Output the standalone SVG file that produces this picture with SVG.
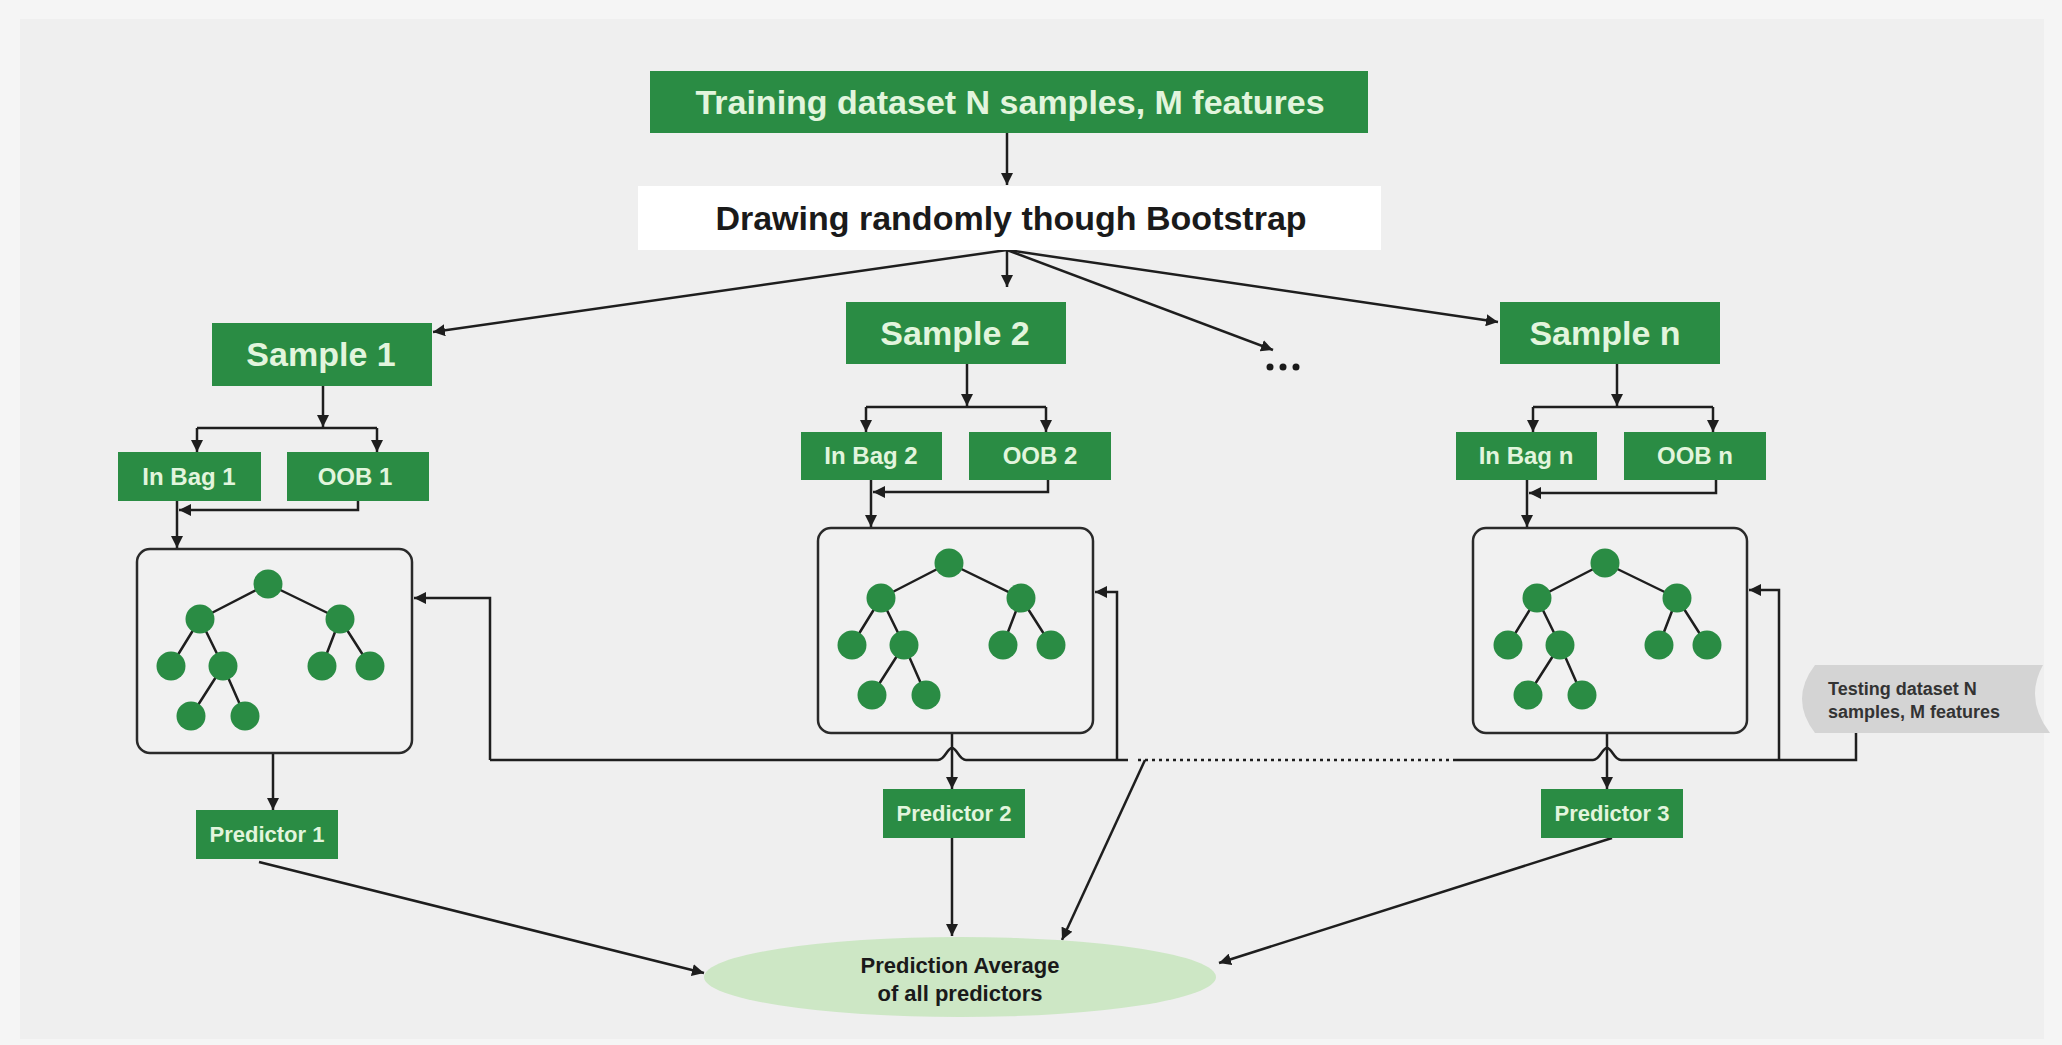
<svg xmlns="http://www.w3.org/2000/svg" width="2062" height="1045" viewBox="0 0 2062 1045">
<style>
.gbox{fill:#2a8c44}
.lt{font-family:"Liberation Sans",Arial,sans-serif;font-weight:bold;fill:#e2f5dd;text-anchor:middle}
.dk{font-family:"Liberation Sans",Arial,sans-serif;font-weight:bold;fill:#1a1a1a;text-anchor:middle}
.ln{fill:none;stroke:#1e1e1e;stroke-width:2.5}
.arr{fill:none;stroke:#1e1e1e;stroke-width:2.5;marker-end:url(#ah)}
.tbox{fill:#f1f1f1;stroke:#2a2a2a;stroke-width:2.5}
.tn{fill:#2a8c44}
</style>
<defs>
<marker id="ah" viewBox="0 0 10 10" refX="10" refY="5" markerWidth="12" markerHeight="12" markerUnits="userSpaceOnUse" orient="auto">
<path d="M0,0 L10,5 L0,10 z" fill="#1e1e1e"/>
</marker>
<g id="tree">
<path class="ln" d="M131,35 L63,70 M131,35 L203,70 M63,70 L34,117 M63,70 L86,117 M203,70 L185,117 M203,70 L233,117 M86,117 L54,167 M86,117 L108,167"/>
<circle class="tn" cx="131" cy="35" r="14.5"/>
<circle class="tn" cx="63" cy="70" r="14.5"/>
<circle class="tn" cx="203" cy="70" r="14.5"/>
<circle class="tn" cx="34" cy="117" r="14.5"/>
<circle class="tn" cx="86" cy="117" r="14.5"/>
<circle class="tn" cx="185" cy="117" r="14.5"/>
<circle class="tn" cx="233" cy="117" r="14.5"/>
<circle class="tn" cx="54" cy="167" r="14.5"/>
<circle class="tn" cx="108" cy="167" r="14.5"/>
</g>
</defs>
<rect x="0" y="0" width="2062" height="1045" fill="#f5f5f5"/>
<rect x="20" y="19" width="2024" height="1020" fill="#efefef"/>

<g id="connectors">
<path class="arr" d="M1007,133 V185"/>
<path class="arr" d="M1007,250 L433,332"/>
<path class="arr" d="M1007,250 V287"/>
<path class="arr" d="M1007,250 L1273,350"/>
<path class="arr" d="M1007,250 L1498,322"/>
<!-- sample 1 -->
<path class="arr" d="M323,386 V427"/>
<path class="ln" d="M197,428 H377"/>
<path class="arr" d="M197,428 V452"/>
<path class="arr" d="M377,428 V452"/>
<path class="arr" d="M358,501 V510 H179"/>
<path class="arr" d="M177,501 V548"/>
<!-- sample 2 -->
<path class="arr" d="M967,364 V406"/>
<path class="ln" d="M866,407 H1046"/>
<path class="arr" d="M866,407 V432"/>
<path class="arr" d="M1046,407 V432"/>
<path class="arr" d="M1048,480 V492 H873"/>
<path class="arr" d="M871,480 V527"/>
<!-- sample n -->
<path class="arr" d="M1617,364 V406"/>
<path class="ln" d="M1533,407 H1713"/>
<path class="arr" d="M1533,407 V432"/>
<path class="arr" d="M1713,407 V432"/>
<path class="arr" d="M1716,480 V493 H1529"/>
<path class="arr" d="M1527,480 V527"/>
<!-- tree stems -->
<path class="arr" d="M273,753 V810"/>
<path class="arr" d="M952,733 V789"/>
<path class="arr" d="M1607,733 V789"/>
<!-- testing data distribution line -->
<path class="ln" d="M490,760 H938 C945,760 947,748 952,748 C957,748 959,760 966,760 H1128"/>
<path class="ln" d="M1138,760 H1456" stroke-dasharray="3,4"/>
<path class="ln" d="M1456,760 H1593 C1600,760 1602,748 1607,748 C1612,748 1614,760 1621,760 H1856 V733"/>
<path class="arr" d="M490,760 V598 H414"/>
<path class="arr" d="M1117,760 V592 H1095"/>
<path class="arr" d="M1779,760 V590 H1749"/>
<path class="arr" d="M1145,760 L1062,940"/>
<!-- predictors to average -->
<path class="arr" d="M259,862 L704,973"/>
<path class="arr" d="M952,838 V936"/>
<path class="arr" d="M1612,838 L1219,963"/>
</g>

<g id="dots">
<circle cx="1270" cy="367" r="3.5" fill="#1a1a1a"/>
<circle cx="1283" cy="367" r="3.5" fill="#1a1a1a"/>
<circle cx="1296" cy="367" r="3.5" fill="#1a1a1a"/>
</g>

<g id="training">
<rect class="gbox" x="650" y="71" width="718" height="62"/>
<text class="lt" x="1010" y="114" font-size="34">Training dataset N samples, M features</text>
</g>
<g id="bootstrap">
<rect x="638" y="186" width="743" height="64" fill="#ffffff"/>
<text class="dk" x="1011" y="230" font-size="34">Drawing randomly though Bootstrap</text>
</g>

<g id="sample1">
<rect class="gbox" x="212" y="323" width="220" height="63"/>
<text class="lt" x="321" y="366" font-size="34">Sample 1</text>
</g>
<g id="sample2">
<rect class="gbox" x="846" y="302" width="220" height="62"/>
<text class="lt" x="955" y="345" font-size="34">Sample 2</text>
</g>
<g id="samplen">
<rect class="gbox" x="1500" y="302" width="220" height="62"/>
<text class="lt" x="1605" y="345" font-size="34">Sample n</text>
</g>

<g id="inbag1">
<rect class="gbox" x="118" y="452" width="143" height="49"/>
<text class="lt" x="189" y="485" font-size="24">In Bag 1</text>
</g>
<g id="oob1">
<rect class="gbox" x="287" y="452" width="142" height="49"/>
<text class="lt" x="355" y="485" font-size="24">OOB 1</text>
</g>
<g id="inbag2">
<rect class="gbox" x="801" y="432" width="141" height="48"/>
<text class="lt" x="871" y="464" font-size="24">In Bag 2</text>
</g>
<g id="oob2">
<rect class="gbox" x="969" y="432" width="142" height="48"/>
<text class="lt" x="1040" y="464" font-size="24">OOB 2</text>
</g>
<g id="inbagn">
<rect class="gbox" x="1456" y="432" width="141" height="48"/>
<text class="lt" x="1526" y="464" font-size="24">In Bag n</text>
</g>
<g id="oobn">
<rect class="gbox" x="1624" y="432" width="142" height="48"/>
<text class="lt" x="1695" y="464" font-size="24">OOB n</text>
</g>

<g id="tree1">
<rect class="tbox" x="137" y="549" width="275" height="204" rx="13"/>
<use href="#tree" transform="translate(137,549)"/>
</g>
<g id="tree2">
<rect class="tbox" x="818" y="528" width="275" height="205" rx="13"/>
<use href="#tree" transform="translate(818,528)"/>
</g>
<g id="tree3">
<rect class="tbox" x="1473" y="528" width="274" height="205" rx="13"/>
<use href="#tree" transform="translate(1474,528)"/>
</g>

<g id="predictor1">
<rect class="gbox" x="196" y="810" width="142" height="49"/>
<text class="lt" x="267" y="842" font-size="22">Predictor 1</text>
</g>
<g id="predictor2">
<rect class="gbox" x="883" y="789" width="142" height="49"/>
<text class="lt" x="954" y="821" font-size="22">Predictor 2</text>
</g>
<g id="predictor3">
<rect class="gbox" x="1541" y="789" width="142" height="49"/>
<text class="lt" x="1612" y="821" font-size="22">Predictor 3</text>
</g>

<g id="testing">
<path d="M1815,665 L2043,665 Q2024,699 2050,733 L1815,733 Q1789,699 1815,665 Z" fill="#d4d4d4"/>
<text x="1828" y="695" font-family="Liberation Sans, Arial, sans-serif" font-weight="bold" font-size="18" fill="#333333">Testing dataset N</text>
<text x="1828" y="718" font-family="Liberation Sans, Arial, sans-serif" font-weight="bold" font-size="18" fill="#333333">samples, M features</text>
</g>

<g id="average">
<ellipse cx="960" cy="977" rx="256" ry="40" fill="#cde7c5"/>
<text class="dk" x="960" y="973" font-size="22" fill="#222">Prediction Average</text>
<text class="dk" x="960" y="1001" font-size="22" fill="#222">of all predictors</text>
</g>
</svg>
